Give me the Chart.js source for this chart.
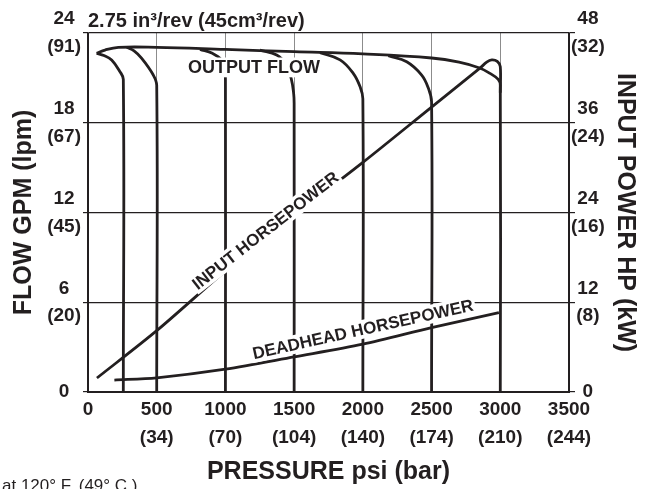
<!DOCTYPE html>
<html>
<head>
<meta charset="utf-8">
<script src="https://cdn.jsdelivr.net/npm/chart.js@4"></script>
<style>
  body { margin: 0; background: #fff; }
  canvas { display: block; }
</style>
</head>
<body>
<canvas id="grafica" width="649" height="489"></canvas>
<script>
// tick labels (english / metric)
const pressureTicks = ['0', ['500', '(34)'], ['1000', '(70)'], ['1500', '(104)'], ['2000', '(140)'], ['2500', '(174)'], ['3000', '(210)'], ['3500', '(244)']]
const flowTicks = ['0', ['6', '(20)'], ['12', '(45)'], ['18', '(67)'], ['24', '(91)']]
const powerTicks = ['0', ['12', '(8)'], ['24', '(16)'], ['36', '(24)'], ['48', '(32)']]

// output flow, gpm vs psi (main curve ends at the 3000 psi relief)
const mainFlowPsi = [63, 124, 221, 500, 1000, 1500, 2000, 2500, 2700, 2850, 2925, 2985, 3000, 3000]
const mainFlowGpm = [22.64, 22.86, 23.04, 23.04, 22.9, 22.75, 22.6, 22.33, 22.05, 21.66, 21.3, 20.9, 20.5, 0]

// relief branches
const flow250Psi = [63, 116, 172, 233, 257, 257]
const flow250Gpm = [22.64, 22.5, 22.19, 21.41, 20.9, 0]
const flow500Psi = [282, 335, 391, 475, 500, 500]
const flow500Gpm = [23.04, 22.8, 22.3, 21.19, 20.5, 0]
const flow1000Psi = [815, 905, 970, 995, 1000, 1000]
const flow1000Gpm = [22.91, 22.64, 22.2, 21.5, 20.9, 0]
const flow1500Psi = [1251, 1373, 1440, 1480, 1497, 1500, 1500]
const flow1500Gpm = [22.86, 22.53, 21.9, 20.9, 19.9, 19.3, 0]
const flow2000Psi = [1688, 1834, 1930, 1980, 2000, 2000]
const flow2000Gpm = [22.68, 22.2, 21.3, 20.4, 19.6, 0]
const flow2500Psi = [2185, 2319, 2428, 2477, 2500, 2500]
const flow2500Gpm = [22.48, 22.08, 21.19, 20.3, 19.4, 0]

// input horsepower (right axis)
const inputHpPsi = [65, 500, 1000, 1500, 2000, 2500, 2852, 2901, 2938, 2978, 3000, 3000]
const inputHp = [1.87, 8.2, 16.2, 23.6, 30.7, 38.1, 43.3, 44.1, 44.4, 44.2, 43.5, 40]

// deadhead horsepower (right axis)
const deadheadPsi = [192, 500, 1000, 1500, 2000, 2500, 2990]
const deadheadHp = [1.6, 1.9, 3.05, 4.7, 6.4, 8.6, 10.6]

const tinta = '#231f20'
Chart.defaults.font.family = '"Liberation Sans", Arial, sans-serif'
Chart.defaults.color = tinta

function puntos(xs, ys) {
    return xs.map((x, i) => ({ x: x, y: ys[i] }))
}

function curva(xs, ys, eje, tension) {
    return {
        data: puntos(xs, ys),
        yAxisID: eje,
        showLine: true,
        borderColor: tinta,
        borderWidth: 2.8,
        pointRadius: 0,
        tension: tension,
        fill: false
    }
}

const textos = {
    id: 'textos',
    afterDatasetsDraw(chart) {
        const ctx = chart.ctx
        const x = chart.scales.x
        const y = chart.scales.y
        const etiquetas = [
            { t: 'OUTPUT FLOW', px: x.getPixelForValue(1208), py: y.getPixelForValue(21.7), ang: 0, size: 18 },
            { t: 'INPUT HORSEPOWER', px: x.getPixelForValue(1290), py: y.getPixelForValue(10.8), ang: -38, size: 17 },
            { t: 'DEADHEAD HORSEPOWER', px: x.getPixelForValue(2000), py: y.getPixelForValue(4.2), ang: -12.5, size: 17 }
        ]
        etiquetas.forEach(e => {
            ctx.save()
            ctx.translate(e.px, e.py)
            ctx.rotate(e.ang * Math.PI / 180)
            ctx.font = 'bold ' + e.size + 'px "Liberation Sans", Arial, sans-serif'
            const w = ctx.measureText(e.t).width
            ctx.fillStyle = '#fff'
            ctx.fillRect(-w / 2 - 2, -e.size * 0.55, w + 4, e.size * 1.1)
            ctx.fillStyle = tinta
            ctx.textAlign = 'center'
            ctx.textBaseline = 'middle'
            ctx.fillText(e.t, 0, 1)
            ctx.restore()
        })
    },
    afterDraw(chart) {
        const ctx = chart.ctx
        const area = chart.chartArea
        ctx.save()
        ctx.fillStyle = tinta
        ctx.textBaseline = 'alphabetic'
        ctx.font = 'bold 20px "Liberation Sans", Arial, sans-serif'
        ctx.fillText('2.75 in\u00b3/rev (45cm\u00b3/rev)', area.left, area.top - 6)
        ctx.font = '17px "Liberation Sans", Arial, sans-serif'
        ctx.fillText('at 120\u00b0 F. (49\u00b0 C.)', 2, 491)
        ctx.restore()
    }
}

const fuenteTicks = { size: 19, weight: 'bold', lineHeight: 1.47 }
const fuenteTitulo = { size: 25, weight: 'bold' }

let chart = new Chart(document.getElementById('grafica').getContext('2d'), {
    type: 'scatter',
    data: {
        datasets: [
            curva(mainFlowPsi, mainFlowGpm, 'y', 0.4),
            curva(flow250Psi, flow250Gpm, 'y', 0.4),
            curva(flow500Psi, flow500Gpm, 'y', 0.4),
            curva(flow1000Psi, flow1000Gpm, 'y', 0.4),
            curva(flow1500Psi, flow1500Gpm, 'y', 0.4),
            curva(flow2000Psi, flow2000Gpm, 'y', 0.4),
            curva(flow2500Psi, flow2500Gpm, 'y', 0.4),
            curva(inputHpPsi, inputHp, 'y1', 0.3),
            curva(deadheadPsi, deadheadHp, 'y1', 0.3)
        ]
    },
    options: {
        responsive: false,
        animation: false,
        layout: { padding: { top: 33, left: 0, right: 0, bottom: 0 } },
        plugins: { legend: { display: false }, tooltip: { enabled: false } },
        scales: {
            x: {
                type: 'linear',
                min: 0,
                max: 3500,
                afterFit: s => { s.height = 97 },
                ticks: {
                    stepSize: 500,
                    maxRotation: 0,
                    autoSkip: false,
                    padding: 4,
                    font: fuenteTicks,
                    callback: v => pressureTicks[Math.round(v / 500)]
                },
                grid: {
                    drawTicks: false,
                    lineWidth: 1,
                    color: c => (c.tick && (c.tick.value === 0 || c.tick.value === 3500)) ? tinta : '#8c8c8c'
                },
                border: { color: tinta, width: 2 },
                title: { display: true, text: 'PRESSURE psi (bar)', font: fuenteTitulo, padding: { top: 0, bottom: 2 } }
            },
            y: {
                position: 'left',
                min: 0,
                max: 24,
                afterFit: s => { s.width = 88 },
                ticks: {
                    stepSize: 6,
                    crossAlign: 'center',
                    padding: 2,
                    font: fuenteTicks,
                    callback: v => flowTicks[Math.round(v / 6)]
                },
                grid: { color: tinta, lineWidth: 1.2, tickLength: 5 },
                border: { color: tinta, width: 1.5 },
                title: { display: true, text: 'FLOW GPM (lpm)', font: fuenteTitulo, padding: { top: 9, bottom: 0 } }
            },
            y1: {
                position: 'right',
                min: 0,
                max: 48,
                afterFit: s => { s.width = 80 },
                ticks: {
                    stepSize: 12,
                    crossAlign: 'center',
                    padding: -4,
                    font: fuenteTicks,
                    callback: v => powerTicks[Math.round(v / 12)]
                },
                grid: { drawOnChartArea: false, color: tinta, lineWidth: 1.2, tickLength: 6 },
                border: { color: tinta, width: 1.5 },
                title: { display: true, text: 'INPUT POWER HP (kW)', font: fuenteTitulo, padding: { top: 9, bottom: 0 } }
            }
        }
    },
    plugins: [textos]
})
</script>
</body>
</html>
